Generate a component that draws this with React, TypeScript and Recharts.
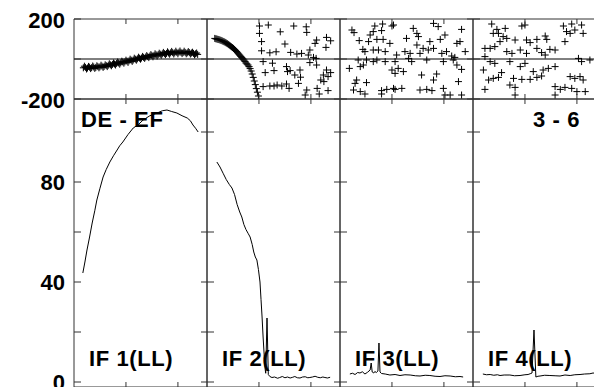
import React from 'react';
import { ScatterChart, Scatter, LineChart, Line, XAxis, YAxis, ReferenceLine, ReferenceArea } from 'recharts';

// ---------- text ----------
const columnTitles = ['IF 1(LL)', 'IF 2(LL)', 'IF 3(LL)', 'IF 4(LL)'];
const cornerLeft = 'DE - EF';
const cornerRight = '3 - 6';

// ---------- ticks ----------
const xTicks = [100, 200];
const topTicks = [-200, 0, 200];
const topTickLabels = [200, -200];
const bottomTicks = [0, 20, 40, 60, 80, 100];
const bottomTickLabels = [80, 40, 0];

// ---------- top row: scatter ('+') ----------
const scatter1X = [18, 22, 26, 30, 34, 38, 42, 46, 50, 54, 58, 62, 66, 70, 74, 78, 82, 86, 90, 94, 98, 102, 106, 110, 114, 118, 122, 126, 130, 134, 138, 142, 146, 150, 154, 158, 162, 166, 170, 174, 178, 182, 186, 190, 194, 198, 202, 206, 210, 214, 218, 222, 226, 230, 234, 238];
const scatter1Y = [-44, -42, -45, -41, -43, -40, -42, -38, -39, -36, -37, -33, -31, -29, -27, -25, -22, -20, -19, -15, -14, -11, -9, -6, -5, -1, 1, 4, 5, 8, 10, 12, 15, 17, 18, 21, 22, 24, 26, 27, 28, 30, 31, 32, 31, 33, 34, 33, 32, 33, 31, 32, 30, 28, 26, 23];
const scatter1bX = [20, 24, 28, 32, 36, 40, 44, 48, 52, 56, 60, 64, 68, 72, 76, 80, 84, 88, 92, 96, 100, 104, 108, 112, 116, 120, 124, 128, 132, 136, 140, 144, 148, 152, 156, 160, 164, 168, 172, 176, 180, 184, 188, 192, 196, 200, 204, 208, 212, 216, 220, 224, 228, 232, 236];
const scatter1bY = [-36, -50, -37, -48, -35, -47, -34, -44, -31, -42, -29, -38, -24, -34, -20, -30, -15, -26, -11, -21, -6, -17, -1, -12, 4, -6, 9, -1, 13, 3, 17, 7, 22, 11, 26, 15, 29, 19, 33, 22, 36, 24, 38, 25, 39, 26, 40, 27, 39, 26, 37, 25, 34, 21, 30];

const scatter2CurveX = [15, 17, 19, 21, 23, 25, 27, 29, 31, 33, 35, 37, 39, 41, 43, 45, 47, 49, 51, 53, 55, 57, 59, 61, 63, 65, 67, 69, 71, 73, 75, 77, 79, 81, 83, 85, 87, 89, 91, 93, 95, 97, 99];
const scatter2CurveY = [103, 101, 100, 98, 97, 95, 93, 91, 88, 86, 83, 80, 77, 73, 69, 65, 61, 57, 53, 48, 43, 37, 31, 25, 19, 13, 7, 1, -5, -12, -20, -25, -30, -38, -48, -60, -75, -92, -110, -128, -148, -166, -185];
const scatter2CloudX = [101, 118, 101, 141, 167, 191, 192, 105, 150, 208, 211, 230, 238, 229, 105, 121, 133, 161, 173, 182, 198, 195, 205, 210, 108, 126, 198, 211, 112, 129, 153, 155, 160, 179, 169, 180, 230, 238, 224, 233, 219, 225, 108, 121, 129, 135, 144, 153, 158, 176, 192, 212, 216, 233, 189];
const scatter2CloudY = [165, 170, 128, 136, 165, 161, 133, 87, 75, 78, 95, 108, 91, 58, 41, 31, 36, 33, 25, 28, 45, 20, 8, 3, -13, -21, -18, -30, -68, -58, -38, -63, -58, -55, -80, -91, -55, -68, -80, -88, -105, -113, -138, -135, -135, -130, -135, -125, -147, -122, -155, -147, -175, -158, -180];

const scatter3X = [23, 27, 67, 82, 100, 64, 80, 58, 37, 55, 71, 83, 96, 44, 48, 64, 74, 87, 35, 51, 64, 71, 87, 106, 18, 39, 45, 100, 106, 32, 29, 51, 26, 39, 48, 80, 90, 103, 80,
  103, 141, 148, 180, 189, 234, 128, 151, 173, 193, 202, 148, 160, 170, 180, 225, 231, 125, 109, 135, 154, 196, 205, 215, 221, 241, 132, 138, 167, 199, 218, 225, 112, 122, 234, 157, 186, 180, 228, 106, 119, 154, 167, 177, 199, 202, 212, 234];
const scatter3Y = [145, 132, 165, 175, 165, 137, 142, 120, 92, 87, 98, 98, 78, 48, 37, 45, 45, 37, -5, -5, -13, -5, -13, -13, -47, -38, -30, -55, -72, -105, -122, -118, -155, -163, -175, -158, -152, -147, -175,
  170, 153, 128, 178, 162, 148, 103, 112, 87, 98, 120, 70, 53, 45, 53, 78, 87, 37, 20, 28, 28, 28, 37, 15, 8, 37, 3, -13, -5, -13, -5, -30, -47, -63, -52, -80, -75, -105, -113, -152, -147, -155, -152, -158, -147, -180, -180, -180];

const scatter4X = [36, 46, 62, 94, 100, 174, 190, 209, 39, 49, 58, 65, 52, 81, 103, 110, 123, 139, 142, 180, 187, 196, 212, 177, 23, 33, 42, 65, 75, 91, 103, 123, 132, 148, 158, 139, 23, 33, 42, 71, 100, 91, 203, 209, 225, 20, 55, 116, 135, 145, 158, 187, 196, 206, 212, 30, 39, 49, 78, 94, 110, 123, 132, 23, 71, 81, 158, 168, 177, 190, 200, 216, 81, 158];
const scatter4Y = [175, 148, 153, 165, 170, 165, 175, 170, 128, 128, 112, 103, 87, 95, 95, 82, 98, 115, 98, 137, 128, 145, 128, 87, 53, 53, 62, 37, 28, 45, 28, 53, 32, 48, 45, 20, 12, -13, -22, -13, -22, -38, 3, -13, -5, -55, -68, -63, -55, -47, -38, -88, -97, -88, -105, -105, -97, -92, -97, -102, -102, -92, -85, -152, -130, -142, -138, -152, -142, -147, -163, -163, -180, -180];

// ---------- bottom row: lines ----------
const line1X = [17, 21, 25, 30, 35, 40, 44, 50, 56, 62, 69, 76, 83, 88, 94, 104, 114, 124, 133, 146, 160, 170, 179, 188, 198, 208, 218, 224, 229, 234, 239];
const line1Y = [43.6, 48, 52.8, 58, 63.6, 68.5, 72.8, 77.5, 82, 85, 88, 90.5, 92.8, 94.5, 96, 99, 101.6, 103, 104.8, 106.5, 107.6, 108.5, 108.8, 108.2, 107.6, 106.5, 105.6, 104.5, 102.8, 101.5, 100];

const line2X = [19, 25, 31, 37, 43, 48, 53, 58, 63, 67, 71, 75, 79, 83, 87, 90, 93, 96, 99, 102, 104, 106, 108, 110, 112, 113, 115.5, 118, 121, 125, 130, 136, 140, 145, 150, 155, 160, 165, 169, 174, 179, 184, 189, 194, 198, 203, 208, 213, 218, 223, 227, 232, 237];
const line2Y = [88, 86, 83.5, 81, 79, 77.6, 75, 71, 68, 66, 63, 61, 59.5, 58, 55, 52, 50, 48.8, 45, 40, 33, 26, 18, 11, 5, 3.5, 25.6, 3, 2.2, 1.8, 2, 1.5, 1.8, 2.2, 1.7, 2, 1.6, 1.9, 2.2, 1.7, 1.6, 2, 2.1, 1.7, 1.8, 2, 2.3, 1.9, 1.7, 2, 1.8, 1.6, 1.9];

const line3X = [19, 24, 29, 34, 38.5, 43, 48, 53, 58, 60, 62, 65, 67, 70, 73, 75, 77, 80, 87, 96, 106, 115.5, 125, 135, 145, 154, 164, 173, 183, 192.5, 202, 212, 222, 231, 237];
const line3Y = [3.2, 3.5, 3.0, 3.8, 3.6, 4.1, 3.2, 3.9, 4.8, 7.6, 4, 3.6, 4.2, 3.8, 4.4, 15.6, 4, 3.4, 3.2, 2.8, 3, 2.6, 2.9, 2.8, 2.5, 2.4, 2.7, 2.6, 2.3, 2.2, 2.5, 2.4, 2.1, 2.2, 2.0];

const line4X = [19, 26, 33, 40, 47, 52, 60, 71, 80, 90.5, 100, 106, 110, 113.6, 117.4, 121, 125, 129, 138, 148, 158, 167.5, 177, 187, 196, 206, 215, 225, 231, 240, 248];
const line4Y = [3.2, 2.9, 3.0, 2.7, 2.9, 2.6, 2.8, 2.8, 2.5, 2.6, 2.9, 3.0, 3.3, 3.6, 20.8, 2.0, 2.3, 2.4, 2.7, 2.6, 2.5, 2.4, 2.8, 2.6, 2.9, 3.0, 3.2, 3.3, 3.6, 3.4, 3.5];

// ---------- assembly ----------
const zip = (xs: number[], ys: number[]) => xs.map((x, i) => ({ x, y: ys[i] }));
const scatterSeries = [
  zip([...scatter1X, ...scatter1bX], [...scatter1Y, ...scatter1bY]),
  zip([...scatter2CurveX, ...scatter2CloudX], [...scatter2CurveY, ...scatter2CloudY]),
  zip(scatter3X, scatter3Y),
  zip(scatter4X, scatter4Y),
];
const lineSeries = [zip(line1X, line1Y), zip(line2X, line2Y), zip(line3X, line3Y), zip(line4X, line4Y)];

// ---------- layout ----------
const W = 594;
const H = 387;
const COL_LEFT = 74;
const COL_W = 133;
const TOP_Y = 19;
const TOP_H = 80;
const BOT_Y = 99;
const BOT_H = 288;
const PAD = 14;
const EDGE = 3;
const X_DOMAIN: [number, number] = [0, 256];
const TOP_DOMAIN: [number, number] = [-200, 200];
const BOT_DOMAIN: [number, number] = [-2, 113.2];
const AXIS = '#333';
const FONT = '"Liberation Sans", Arial, Helvetica, sans-serif';
const FONT_SIZE = 22;

const Plus = (props: any) => {
  const { cx, cy } = props;
  if (cx == null || cy == null) return null;
  const r = 3.5;
  return <path d={`M${cx - r},${cy}H${cx + r}M${cx},${cy - r}V${cy + r}`} stroke="#000" strokeWidth={1} fill="none" />;
};

type Orient = 'top' | 'bottom' | 'left' | 'right';

// Inward tick marks (and, for the first column, the value labels).
const makeTick = (orient: Orient, len: number, labels: number[] = [], dy = 8) => (props: any) => {
  const { x, y, payload } = props;
  let x2 = x;
  let y2 = y;
  if (orient === 'top') y2 = y + len;
  if (orient === 'bottom') y2 = y - len;
  if (orient === 'left') x2 = x + len;
  if (orient === 'right') x2 = x - len;
  const show = labels.includes(payload.value);
  return (
    <g>
      <line x1={x} y1={y} x2={x2} y2={y2} stroke={AXIS} strokeWidth={1} />
      {show && (
        <text x={x - 9} y={y + dy} textAnchor="end" fontFamily={FONT} fontWeight={700} fontSize={FONT_SIZE} fill="#000">
          {payload.value}
        </text>
      )}
    </g>
  );
};

function geom(col: number) {
  const first = col === 0;
  return {
    left: first ? 0 : COL_LEFT + col * COL_W - EDGE,
    width: first ? COL_LEFT + COL_W + EDGE : COL_W + 2 * EDGE,
    yw: first ? COL_LEFT : 1,
    ml: first ? 0 : EDGE - 1,
    mr: EDGE - 1,
  };
}

function axes(col: number, yDomain: [number, number], yTicks: number[], labels: number[], dy: number) {
  const g = geom(col);
  const common = { axisLine: false, tickLine: false, tickSize: 0, tickMargin: 0, allowDataOverflow: true, interval: 0 as const };
  return [
    <XAxis key="xb" xAxisId="b" type="number" dataKey="x" domain={X_DOMAIN} ticks={xTicks} orientation="bottom" height={1} tick={makeTick('bottom', 5)} {...common} />,
    <XAxis key="xt" xAxisId="t" type="number" dataKey="x" domain={X_DOMAIN} ticks={xTicks} orientation="top" height={1} tick={makeTick('top', 5)} {...common} />,
    <YAxis
      key="yl"
      yAxisId="l"
      type="number"
      dataKey="y"
      domain={yDomain}
      ticks={yTicks}
      orientation="left"
      width={g.yw}
      tick={makeTick('left', 7, col === 0 ? labels : [], dy)}
      {...common}
    />,
    <YAxis key="yr" yAxisId="r" type="number" dataKey="y" domain={yDomain} ticks={yTicks} orientation="right" width={1} tick={makeTick('right', 6)} {...common} />,
    <ReferenceArea
      key="frame"
      xAxisId="b"
      yAxisId="l"
      x1={X_DOMAIN[0]}
      x2={X_DOMAIN[1]}
      y1={yDomain[0]}
      y2={yDomain[1]}
      fill="none"
      stroke={AXIS}
      strokeWidth={1}
      ifOverflow="visible"
    />,
  ];
}

function TopPanel({ col }: { col: number }) {
  const g = geom(col);
  const h = TOP_H + 2 * PAD;
  return (
    <div style={{ position: 'absolute', left: g.left, top: TOP_Y - PAD, width: g.width, height: h }}>
      <ScatterChart width={g.width} height={h} margin={{ top: PAD - 1, bottom: PAD - 1, left: g.ml, right: g.mr }}>
        {axes(col, TOP_DOMAIN, topTicks, topTickLabels, 9)}
        <ReferenceLine y={0} xAxisId="b" yAxisId="l" stroke="#000" strokeWidth={1} />
        <Scatter data={scatterSeries[col]} xAxisId="b" yAxisId="l" shape={<Plus />} isAnimationActive={false} />
      </ScatterChart>
    </div>
  );
}

function BottomPanel({ col }: { col: number }) {
  const g = geom(col);
  const h = BOT_H + EDGE + PAD;
  return (
    <div style={{ position: 'absolute', left: g.left, top: BOT_Y - EDGE, width: g.width, height: h }}>
      <LineChart width={g.width} height={h} data={lineSeries[col]} margin={{ top: EDGE - 1, bottom: PAD - 1, left: g.ml, right: g.mr }}>
        {axes(col, BOT_DOMAIN, bottomTicks, bottomTickLabels, 8)}
        <Line type="linear" dataKey="y" xAxisId="b" yAxisId="l" stroke="#000" strokeWidth={1} dot={false} activeDot={false} isAnimationActive={false} />
      </LineChart>
    </div>
  );
}

const textStyle = { fontFamily: FONT, fontWeight: 700, fontSize: FONT_SIZE, letterSpacing: 0.6, fill: '#000' } as const;

export default function App() {
  const cols = [0, 1, 2, 3];
  return (
    <div style={{ position: 'absolute', left: 0, top: 0, width: W, height: H, overflow: 'hidden', background: '#fff' }}>
      {cols.map((c) => (
        <BottomPanel key={`b${c}`} col={c} />
      ))}
      {cols.map((c) => (
        <TopPanel key={`t${c}`} col={c} />
      ))}
      <svg width={W} height={H} style={{ position: 'absolute', left: 0, top: 0, pointerEvents: 'none' }}>
        <text x={COL_LEFT + 7} y={127} style={textStyle}>
          {cornerLeft}
        </text>
        <text x={COL_LEFT + 3 * COL_W + 60} y={127} style={textStyle}>
          {cornerRight}
        </text>
        {columnTitles.map((t, i) => (
          <text key={t} x={COL_LEFT + i * COL_W + 15} y={366} style={textStyle}>
            {t}
          </text>
        ))}
      </svg>
    </div>
  );
}
